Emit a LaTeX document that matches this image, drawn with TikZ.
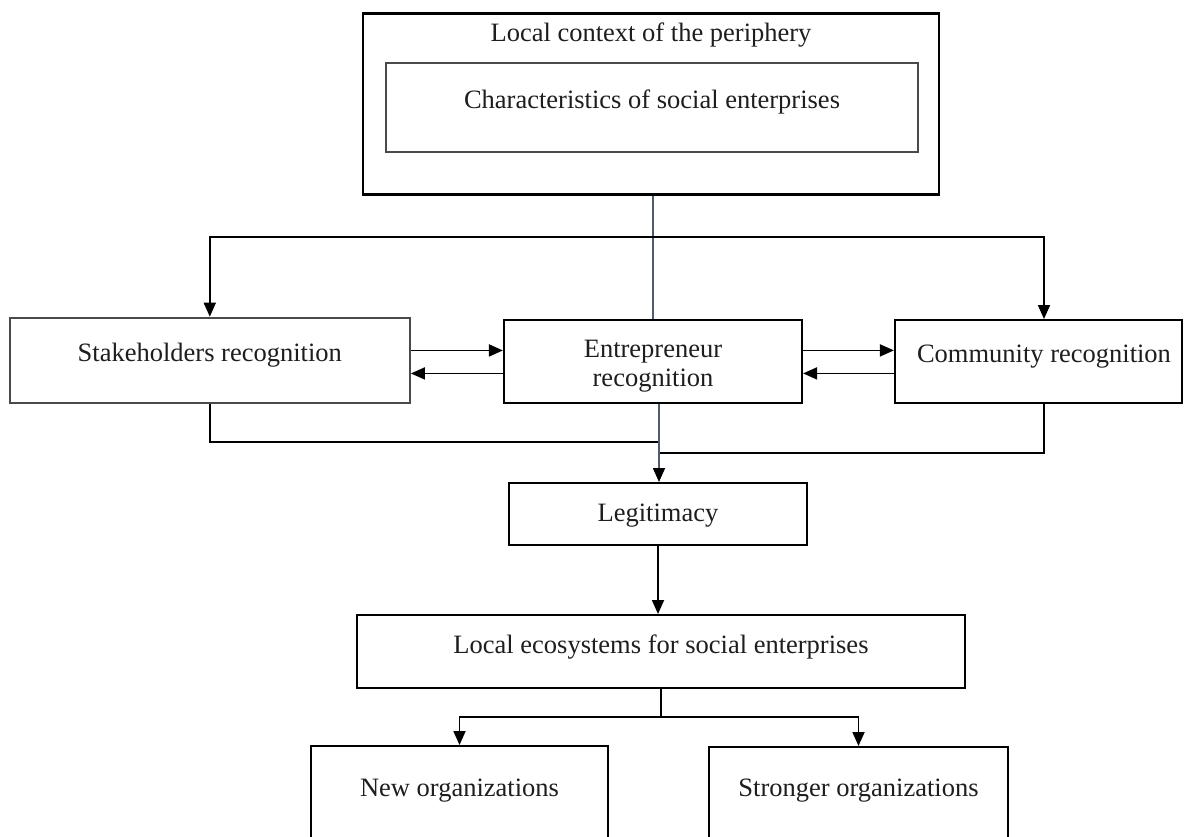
\documentclass[tikz,border=0pt]{standalone}
\usepackage{fontspec}
\setmainfont{Liberation Serif}
\usetikzlibrary{arrows.meta}
\definecolor{txt}{HTML}{1E1E1E}
\definecolor{slate}{HTML}{4F5B73}
\definecolor{boxgray}{HTML}{4A4A4A}
\newcommand{\fsz}{\fontsize{26.5}{28.3}\selectfont}
\begin{document}
\begin{tikzpicture}[x=1pt,y=-1pt,
  box/.style={draw=black, line width=2.2pt, inner sep=0pt, anchor=north, font=\fsz, text=txt},
  conn/.style={draw=black, line width=1.8pt},
  arr/.style={conn, -{Triangle[length=14pt,width=12pt]}},
  gline/.style={draw=slate, line width=1.6pt},
]
\clip (0,0) rectangle (1187,836);
\fill[white] (0,0) rectangle (1187,836);

% boxes
\node[box, line width=2.6pt, minimum width=576pt, text height=28pt, text depth=153pt] (ctx) at (651,12) {Local context of the periphery};
\node[box, draw=boxgray, line width=2.2pt, minimum width=532pt, text height=45pt, text depth=44pt] (chars) at (652,62) {Characteristics of social enterprises};
\node[box, draw=boxgray, line width=2.2pt, minimum width=400pt, text height=44pt, text depth=41.3pt] (stake) at (209.8,316.7) {Stakeholders recognition};
\node[box, minimum width=298pt, text height=37.7pt, text depth=45.3pt] (ent) at (653,319) {\begin{tabular}[t]{@{}c@{}}Entrepreneur\\recognition\end{tabular}};
\node[box, minimum width=287pt, text height=42.7pt, text depth=40.3pt] (comm) at (1038.5,319) {\hspace*{11pt}Community recognition};
\node[box, minimum width=298pt, text height=38pt, text depth=24pt] (leg) at (658,482) {Legitimacy};
\node[box, minimum width=608pt, text height=38pt, text depth=35pt] (eco) at (661,614) {Local ecosystems for social enterprises};
\node[box, minimum width=297pt, text height=50pt, text depth=70pt] (neworg) at (459.5,745) {New organizations};
\node[box, minimum width=299pt, text height=49pt, text depth=70pt] (strong) at (858.5,746) {Stronger organizations};

% top distribution
\coordinate (jt) at (653,236.7);
\draw[gline] (ent.north |- ctx.south) -- (ent.north);
\draw[arr] (jt) -| (stake.north);
\draw[arr] (jt) -| ([xshift=5.5pt]comm.north);

% exchanges
\draw[arr] ([yshift=10pt]stake.east) -- ([yshift=10pt]stake.east -| ent.west);
\draw[arr] ([yshift=-13pt]stake.east -| ent.west) -- ([yshift=-13pt]stake.east);
\draw[arr] ([yshift=11.2pt]ent.east) -- ([yshift=11.2pt]ent.east -| comm.west);
\draw[arr] ([yshift=-11.8pt]ent.east -| comm.west) -- ([yshift=-11.8pt]ent.east);

% convergence to legitimacy
\coordinate (jl) at (659,442);
\coordinate (jr) at (659,453.3);
\draw[conn] (stake.south) |- (jl);
\draw[conn] ([xshift=5.5pt]comm.south) |- (jr);
\draw[gline, -{Triangle[length=14pt,width=12pt,color=black]}] ([xshift=6pt]ent.south) -- ([xshift=6pt]ent.south |- leg.north);

% legitimacy to ecosystems
\draw[arr] (leg.south) -- (leg.south |- eco.north);

% branches
\coordinate (jb) at (661,717);
\draw[conn] (eco.south) -- (jb);
\draw[arr] (jb) -| (neworg.north);
\draw[arr] (jb) -| (strong.north);
\end{tikzpicture}
\end{document}
